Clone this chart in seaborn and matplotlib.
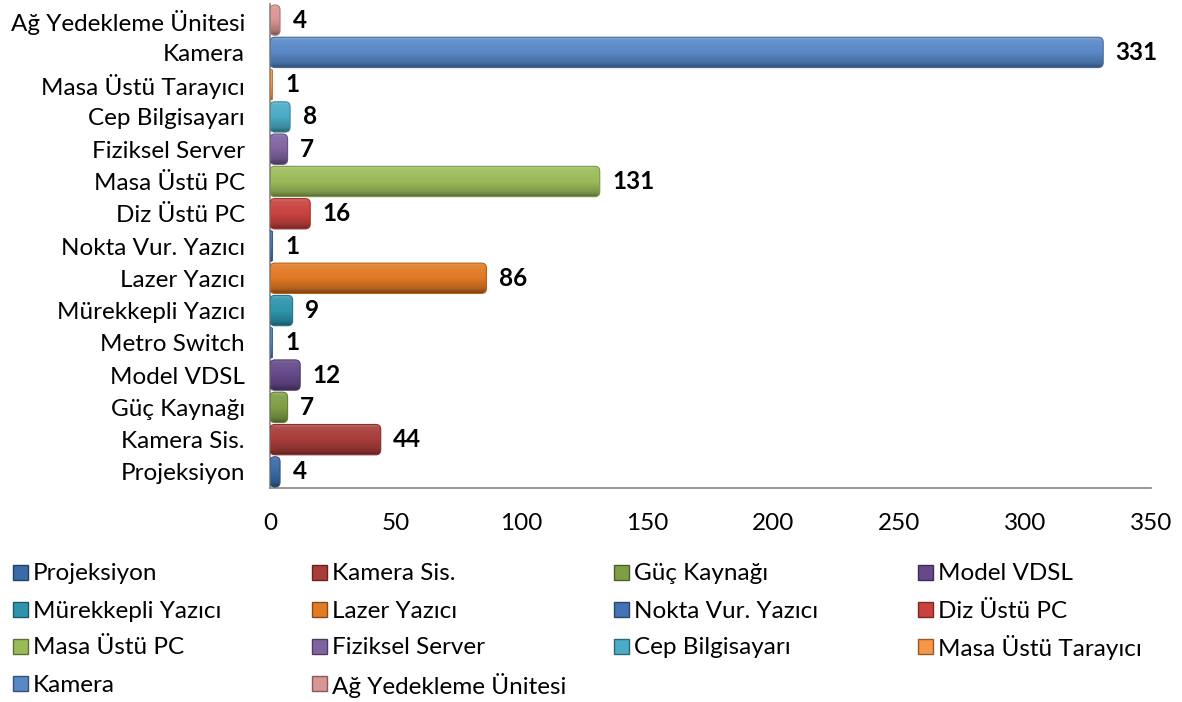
import matplotlib
matplotlib.use("Agg")
import numpy as np
import matplotlib.pyplot as plt
import seaborn as sns
import pandas as pd
from matplotlib.patches import Rectangle, FancyBboxPatch
from matplotlib.colors import to_rgb

# Veri (alttan üste)
kategoriler = [
    "Projeksiyon", "Kamera Sis.", "Güç Kaynağı", "Model VDSL", "Metro Switch",
    "Mürekkepli Yazıcı", "Lazer Yazıcı", "Nokta Vur. Yazıcı", "Diz Üstü PC",
    "Masa Üstü PC", "Fiziksel Server", "Cep Bilgisayarı", "Masa Üstü Tarayıcı",
    "Kamera", "Ağ Yedekleme Ünitesi",
]
adetler = [4, 44, 7, 12, 1, 9, 86, 1, 16, 131, 7, 8, 1, 331, 4]
renkler = [
    "#3a6aa8", "#a83c39", "#7f9e45", "#65498a", "#4f81bd",
    "#2e94ad", "#e27a24", "#4473b6", "#c9423e",
    "#9bbb59", "#8064a2", "#4bacc6", "#f79646",
    "#5888c6", "#d99694",
]
# legend'da Metro Switch yok
legend_sirasi = [
    "Projeksiyon", "Kamera Sis.", "Güç Kaynağı", "Model VDSL",
    "Mürekkepli Yazıcı", "Lazer Yazıcı", "Nokta Vur. Yazıcı", "Diz Üstü PC",
    "Masa Üstü PC", "Fiziksel Server", "Cep Bilgisayarı", "Masa Üstü Tarayıcı",
    "Kamera", "Ağ Yedekleme Ünitesi",
]

sns.set_style("white")
plt.rcParams["font.family"] = ["Lato", "DejaVu Sans"]
plt.rcParams["text.color"] = "black"
plt.rcParams["xtick.labelcolor"] = "black"
plt.rcParams["ytick.labelcolor"] = "black"
FS = 17.5

df = pd.DataFrame({"kategori": kategoriler, "adet": adetler})
renk_map = dict(zip(kategoriler, renkler))
sira = kategoriler[::-1]  # üstte Ağ Yedekleme


def ton(c, f):
    r, g, b = to_rgb(c)
    if f >= 1:
        return tuple(x + (1 - x) * (f - 1) for x in (r, g, b))
    return (r * f, g * f, b * f)


fig = plt.figure(figsize=(11.82, 7.02), dpi=100)
ax = fig.add_axes([0.2284, 0.3048, 0.7454, 0.6895])

sns.barplot(data=df, y="kategori", x="adet", hue="kategori", order=sira,
            hue_order=sira, palette=renk_map, orient="h", width=0.94,
            saturation=1, legend=False, ax=ax)

ax.set_xlim(0, 350)
ax.set_ylim(len(sira) - 0.5, -0.5)

for cont in ax.containers:
    ax.bar_label(cont, fmt="%d", padding=9, fontsize=FS, fontweight="bold",
                 color="black")

# Excel tarzı yuvarlak uçlu, degrade çubuklar
px_x = (0.7454 * 1182) / 350.0
px_y = (0.6895 * 702) / len(sira)
for patch in list(ax.patches):
    x0, y0 = patch.get_x(), patch.get_y()
    w, h = patch.get_width(), patch.get_height()
    if w <= 0:
        continue
    renk = patch.get_facecolor()[:3]
    patch.set_visible(False)
    r = min(5.0 / px_x, w / 2.0)
    asp = (1.0 / px_y) / (1.0 / px_x)
    kutu = FancyBboxPatch((x0, y0), w, h,
                          boxstyle=f"round,pad=0,rounding_size={r}",
                          mutation_aspect=asp, facecolor="none",
                          edgecolor=ton(renk, 0.8), linewidth=0.8, zorder=3)
    ax.add_patch(kutu)
    t = np.linspace(0, 1, 64)
    f = np.interp(t, [0, 0.12, 0.5, 0.85, 1], [1.25, 1.08, 1.0, 0.8, 0.55])
    grad = np.array([[ton(renk, v)] for v in f])
    im = ax.imshow(grad, extent=(x0, x0 + w, y0 + h, y0), aspect="auto",
                   origin="upper", zorder=2, interpolation="bilinear")
    im.set_clip_path(kutu)

ax.set_xlim(0, 350)
ax.set_ylim(len(sira) - 0.5, -0.5)
ax.set_xticks(range(0, 351, 50))
ax.set_xlabel("")
ax.set_ylabel("")
ax.tick_params(axis="x", length=7, width=1.2, color="#868686", pad=11,
               labelsize=FS, labelcolor="black")
ax.tick_params(axis="y", length=0, pad=18, labelsize=FS, labelcolor="black")
ax.set_yticks(range(len(sira)), sira)
ax.set_yticks([i + 0.5 for i in range(-1, len(sira))], minor=True)
ax.tick_params(axis="y", which="minor", length=7, width=1.2, color="#868686")
for s in ["top", "right"]:
    ax.spines[s].set_visible(False)
for s in ["left", "bottom"]:
    ax.spines[s].set_color("#868686")
    ax.spines[s].set_linewidth(1.2)

# legend: 4 sütun, satır satır
W, H = 1182.0, 702.0
sutun_x = [13, 312, 614, 918]
satir_y = [572, 609, 646, 683]
kare = 15
for i, isim in enumerate(legend_sirasi):
    sx = sutun_x[i % 4]
    sy = satir_y[i // 4]
    c = renk_map[isim]
    fig.patches.append(Rectangle((sx / W, 1 - (sy + kare / 2) / H),
                                 kare / W, kare / H, transform=fig.transFigure,
                                 facecolor=c, edgecolor=ton(c, 0.6),
                                 linewidth=1.0))
    fig.text((sx + kare + 5) / W, 1 - sy / H, isim, fontsize=FS,
             va="center_baseline", ha="left", color="black")

fig.savefig("out.png", dpi=100)
